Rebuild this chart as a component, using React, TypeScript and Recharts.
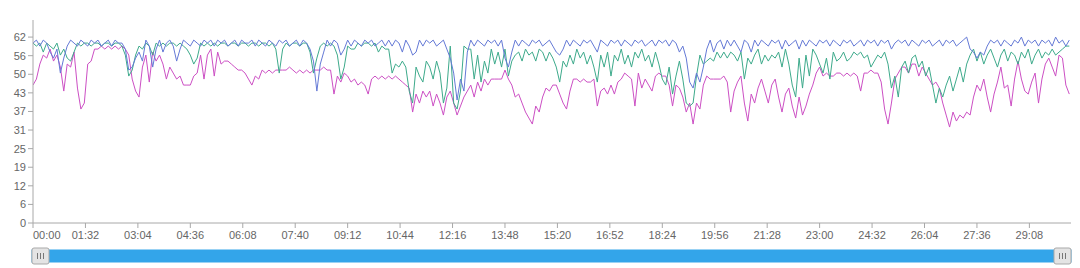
import React from "react";
import { LineChart, Line, XAxis, YAxis, Brush } from "recharts";

// sampling interval of the series, seconds
const STEP = 6;

const X_TICK_LABELS = ["00:00","01:32","03:04","04:36","06:08","07:40","09:12","10:44","12:16","13:48","15:20","16:52","18:24","19:56","21:28","23:00","24:32","26:04","27:36","29:08"];
const Y_TICKS = [0, 6.2, 12.4, 18.6, 24.8, 31, 37.2, 43.4, 49.6, 55.8, 62];
const Y_MAX = 67.7;
const X_MAX = 1821;

const MAGENTA = [
  46,48,53,56,55,58,54,56,52,44, 53,52,57,45,38,40,53,54,58,58, 59,58,59,58,59,58,59,58,56,48, 44,42,52,56,47,57,54,56,53,48, 52,50,48,49,46,46,46,49,50,56, 48,56,58,
  49,57,53,54,54,53,52,51,51,50, 48,46,49,48,51,50,51,50,51,51, 51,51,52,51,50,51,50,51,50,51, 51,51,52,51,51,43,49,47,50,49, 47,48,46,47,46,43,48,49,48,49,48,
  49,48,49,48,47,46,45,37,43,40, 44,42,44,39,43,40,36,42,44,40, 36,39,42,44,46,42,47,44,48,46, 48,48,48,48,51,48,46,42, 43,40,37,35,33,39,37,42, 45,44,46,
  46,43,40,38,44,48,48,47,48,47, 47,48,39,44,45,43,46,43,47, 48,50,49,48,39,50,45,48,46,44, 49,50,49,49,46,39,46,45,42,37, 40,33,40,38,46,49,48,48,48, 48,49,47,37,
  44,47,49,40,34,43,40,45,48,44, 40,46,48,42,37,43,45,39,35,42, 36,39,43,46,50,52,49,50,49,49, 50,50,49,50,49,50,49,44, 50,50,51,50,50,47,38,33,40,48, 50,
  52,52,50,53,53,49,52,50,48,46, 47,45,40,36,32,37,34,36,35,37, 36,42,46,44,48,42,37,43,47,52, 45,46,39,48,54,48,44,43,47,50, 40,48,53,55,52,49,56,55,46,43,
];

const GREEN = [
  60,59,60,57,60,59,58,60,56,58, 55,54,57,60,59,60,60,59,60,60, 59,60,60,59,60,60,59,56,49,51, 56,59,58,60,59,56,60,59,60,59, 60,60,59,60,59,58,56,53,55,60, 59,60,59,
  60,59,60,60,59,60,60,59,60,60, 59,60,60,59,60,60,59,60,58,50, 58,60,59,60,60,59,60,60,57,50, 55,59,60,59,60,59,56,48,52,59, 58,58,60,59,60,60,59,60,57,59,58,
  58,50,53,52,54,52,44,40,52,49, 47,54,52,48,54,50,40,45,59,40, 38,44,59,58,58,48,56,47,54,50, 58,53,57,52,58,49,54,56, 57,54,58,56,57,54,58,57, 54,57,55,
  52,47,54,52,56,53,58,55,57,53, 56,52,47,56,52,57,49,56,54, 58,53,56,52,57,55,58,54,56,52, 57,53,48,46,52,43,49,54,48,40, 39,40,49,56,53,54,55,54,57, 55,57,55,57,
  56,54,57,48,55,53,56,58,53,56, 54,56,55,57,52,58,53,46,42,55, 45,56,49,58,56,53,50,55,48,57, 54,55,57,54,55,57,56,57, 55,56,52,54,56,55,57,53,45,49, 42,
  52,54,50,55,56,52,54,49,52,46, 40,45,42,46,49,44,48,52,47,53, 56,58,54,57,53,56,58,55,52,56, 58,54,57,56,53,57,55,58,53,56, 58,55,57,56,58,56,57,58,59,59,
];

const BLUE = [
  60,61,59,61,60,57,55,58,50,55, 59,61,60,59,61,60,59,61,60,61, 59,60,61,59,61,60,60,58,51,52, 55,57,54,61,59,52,58,61,57,60, 61,59,54,58,61,60,59,61,60,59, 61,60,61,
  59,61,60,61,59,60,61,59,61,60, 60,61,59,61,60,59,61,60,59,61, 60,61,59,60,61,59,61,60,58,54, 44,53,57,61,59,61,60,56,58,61, 59,61,60,59,61,60,61,59,60,61,59,
  61,59,61,60,57,61,59,56,57,61, 59,61,60,61,59,60,61,58,55,50, 41,48,44,57,61,59,61,60,59,61, 60,61,59,61,55,52,57,61, 59,61,60,59,61,60,61,59, 60,61,59,
  57,56,58,61,59,61,60,59,61,60, 61,59,57,61,60,59,61,60,61, 59,61,60,59,61,60,61,59,60,61, 59,61,60,61,59,61,60,57,59,55, 47,45,50,47,52,58,61,57,60, 61,58,61,59,
  61,59,57,61,60,57,61,59,61,60, 59,61,60,61,58,61,59,60,61,58, 61,59,61,60,59,61,60,61,59,61, 60,59,61,60,61,59,60,61, 59,61,60,61,59,61,60,61,58,60, 61,
  60,61,59,61,60,59,61,60,61,59, 60,61,59,61,60,61,59,60,61,62, 58,57,55,57,56,59,61,60,61,59, 61,60,59,61,60,62,59,61,60,61, 59,61,60,61,59,62,60,61,59,61,
];

const toSec = (s: string) => {
  const [m, sec] = s.split(":");
  return parseInt(m, 10) * 60 + parseInt(sec, 10);
};
const X_TICKS = X_TICK_LABELS.map(toSec);
const pad = (n: number) => (n < 10 ? "0" + n : String(n));
const fmtTime = (v: number) => pad(Math.floor(v / 60)) + ":" + pad(Math.round(v % 60));

const N = Math.min(MAGENTA.length, GREEN.length, BLUE.length);
const data = Array.from({ length: N }, (_, i) => ({
  t: i * STEP,
  m: MAGENTA[i],
  g: GREEN[i],
  b: BLUE[i],
}));

const FONT = "'Liberation Sans', Arial, sans-serif";
const AXIS_COLOR = "#a8a8a8";
const TEXT_COLOR = "#666";

const XTick = (props: any) => {
  const { x, y, payload, index } = props;
  return (
    <text
      x={x}
      y={y}
      dy="0.71em"
      textAnchor={index === 0 ? "start" : "middle"}
      fill={TEXT_COLOR}
      fontSize={11}
      fontFamily={FONT}
    >
      {fmtTime(payload.value)}
    </text>
  );
};

const Handle = (props: any) => {
  const { x, y, width, height } = props;
  const cx = x + width / 2;
  return (
    <g>
      <rect x={x} y={y - 2} width={width} height={height + 4} rx={2} fill="#e4e4e4" stroke="#a9a9a9" />
      <line x1={cx - 3} x2={cx - 3} y1={y + 3} y2={y + height - 3} stroke="#777" />
      <line x1={cx} x2={cx} y1={y + 3} y2={y + height - 3} stroke="#777" />
      <line x1={cx + 3} x2={cx + 3} y1={y + 3} y2={y + height - 3} stroke="#777" />
    </g>
  );
};

export default function App() {
  return (
    <div style={{ position: "absolute", left: 0, top: 0, width: 1080, height: 268, background: "#fff" }}>
      <LineChart width={1080} height={268} data={data} margin={{ top: 20, right: 9, left: 0, bottom: 11 }}>
        <XAxis
          dataKey="t"
          type="number"
          domain={[0, X_MAX]}
          ticks={X_TICKS}
          interval={0}
          height={22}
          tickSize={5}
          tickMargin={3}
          stroke={AXIS_COLOR}
          tick={<XTick />}
          allowDataOverflow
        />
        <YAxis
          type="number"
          domain={[0, Y_MAX]}
          ticks={Y_TICKS}
          interval={0}
          width={33}
          tickSize={5}
          tickMargin={2}
          stroke={AXIS_COLOR}
          tick={{ fill: TEXT_COLOR, fontSize: 11, fontFamily: FONT }}
          tickFormatter={(v: number) => String(Math.round(v))}
          allowDataOverflow
        />
        <Line type="linear" dataKey="m" stroke="#cc4fc4" strokeWidth={1} dot={false} isAnimationActive={false} />
        <Line type="linear" dataKey="g" stroke="#3daa8b" strokeWidth={1} dot={false} isAnimationActive={false} />
        <Line type="linear" dataKey="b" stroke="#6479d6" strokeWidth={1} dot={false} isAnimationActive={false} />
        <Brush
          dataKey="t"
          x={32}
          y={250}
          width={1039}
          height={12}
          travellerWidth={17}
          fill="#34a6ea"
          stroke="#34a6ea"
          traveller={<Handle />}
          tickFormatter={fmtTime}
        />
      </LineChart>
    </div>
  );
}
